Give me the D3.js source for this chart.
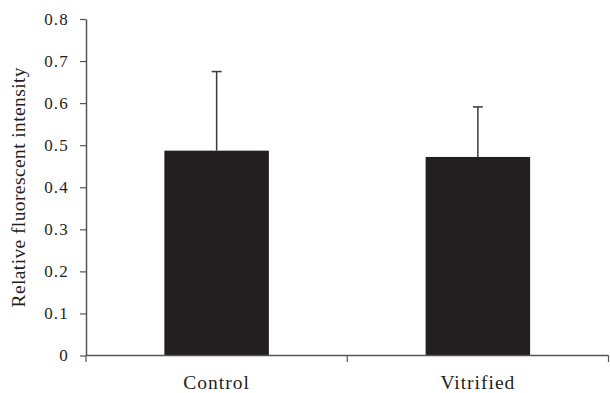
<!DOCTYPE html>
<html>
<head>
<meta charset="utf-8">
<script src="https://cdn.jsdelivr.net/npm/d3@7"></script>
<style>
  body { margin: 0; background: #fff; }
  svg text { font-family: "Liberation Serif", "DejaVu Serif", serif; fill: #231f20; }
</style>
</head>
<body>
<div id="chart"></div>
<script>
// Values.
const groups = ["Control", "Vitrified"];
const means = [0.487, 0.472];
const errors = [0.188, 0.119];
const yTicks = [0, 0.1, 0.2, 0.3, 0.4, 0.5, 0.6, 0.7, 0.8];

const width = 610;
const height = 393;
const margin = { top: 19, right: 1.5, bottom: 37.5, left: 86 };
const innerW = width - margin.left - margin.right;
const innerH = height - margin.top - margin.bottom;

const svg = d3.select("#chart")
  .append("svg")
    .attr("width", width)
    .attr("height", height);

const g = svg.append("g")
  .attr("transform", `translate(${margin.left},${margin.top})`);

const x = d3.scaleBand()
  .domain(groups)
  .range([0, innerW])
  .paddingInner(0.6)
  .paddingOuter(0.3);

const y = d3.scaleLinear()
  .domain([0, 0.8])
  .range([innerH, 0]);

// Bars
g.selectAll("rect.bar")
  .data(groups)
  .enter()
  .append("rect")
    .attr("class", "bar")
    .attr("x", d => x(d))
    .attr("width", x.bandwidth())
    .attr("y", (d, i) => y(means[i]))
    .attr("height", (d, i) => y(0) - y(means[i]))
    .attr("fill", "#231f20");

// Error bars (upper only)
const err = g.selectAll("g.err")
  .data(groups)
  .enter()
  .append("g")
    .attr("class", "err")
    .attr("stroke", "#3a3a3a")
    .attr("stroke-width", 1.5);

err.append("line")
  .attr("x1", d => x(d) + x.bandwidth() / 2)
  .attr("x2", d => x(d) + x.bandwidth() / 2)
  .attr("y1", (d, i) => y(means[i]))
  .attr("y2", (d, i) => y(means[i] + errors[i]));

err.append("line")
  .attr("x1", d => x(d) + x.bandwidth() / 2 - 5)
  .attr("x2", d => x(d) + x.bandwidth() / 2 + 5)
  .attr("y1", (d, i) => y(means[i] + errors[i]))
  .attr("y2", (d, i) => y(means[i] + errors[i]));

// Y axis
const yAxis = g.append("g")
  .call(d3.axisLeft(y).tickValues(yTicks).tickSize(6).tickSizeOuter(0)
    .tickFormat(d => d === 0 ? "0" : d3.format(".1f")(d)));
yAxis.select(".domain").attr("stroke", "#555").attr("stroke-width", 1.5);
yAxis.selectAll(".tick line").attr("stroke", "#555").attr("stroke-width", 1.2);
yAxis.selectAll(".tick text")
  .attr("x", -17)
  .attr("font-size", 17)
  .attr("letter-spacing", 1.2)
  .attr("fill", "#231f20");

// X axis: line with ticks at the category boundaries
const xAxis = g.append("g")
  .attr("transform", `translate(0,${innerH})`);
xAxis.append("line")
  .attr("x1", 0).attr("x2", innerW)
  .attr("stroke", "#555").attr("stroke-width", 1.5);
xAxis.selectAll("line.bound")
  .data([0, 1, 2])
  .enter()
  .append("line")
    .attr("class", "bound")
    .attr("x1", i => i * innerW / groups.length)
    .attr("x2", i => i * innerW / groups.length)
    .attr("y1", 0).attr("y2", 6.5)
    .attr("stroke", "#555").attr("stroke-width", 1.2);
xAxis.selectAll("text")
  .data(groups)
  .enter()
  .append("text")
    .attr("x", d => x(d) + x.bandwidth() / 2)
    .attr("y", 33)
    .attr("text-anchor", "middle")
    .attr("font-size", 19.5)
    .attr("letter-spacing", 1)
    .text(d => d);

// Y axis title
svg.append("text")
  .attr("transform", `translate(25,${margin.top + innerH / 2}) rotate(-90)`)
  .attr("text-anchor", "middle")
  .attr("font-size", 19.5)
  .attr("letter-spacing", 0.4)
  .text("Relative fluorescent intensity");
</script>
</body>
</html>
